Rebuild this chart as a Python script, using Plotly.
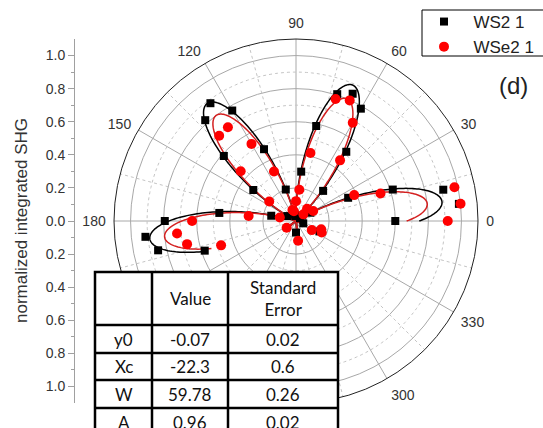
import numpy as np
import plotly.graph_objects as go

FIG_W, FIG_H = 543, 428

# ---------------- data ----------------
angles = [0, 6, 12, 18, 24, 30, 36, 42, 48, 54, 60, 66, 72, 78, 84, 90, 96,
          102, 108, 114, 120, 126, 132, 138, 144, 150, 156, 162, 168, 174,
          180, 186, 192, 198]

ws2 = [0.60, 0.99, 0.91, 0.615, 0.345, 0.10, 0.03, 0.05, 0.245, 0.517,
       0.784, 0.842, 0.806, 0.587, 0.30, -0.07, 0.03, 0.04, 0.20, 0.475,
       0.771, 0.88, 0.82, 0.587, 0.319, 0.06, -0.155, -0.046, 0.153, 0.466,
       0.793, 0.915, 0.852, 0.58]

wse2 = [0.917, 1.0, 0.979, 0.537, 0.385, 0.12, -0.07, 0.06, 0.10, 0.453,
        0.686, 0.798, 0.775, 0.42, 0.19, 0.12, -0.12, 0.06, 0.07, 0.327,
        0.538, 0.70, 0.694, 0.45, 0.20, -0.11, -0.17, -0.16, 0.10, 0.288,
        0.628, 0.723, 0.673, 0.476]

series_names = ["WS2 1", "WSe2 1"]

# fit table (WS2 1)
param_names = ["y0", "Xc", "W", "A"]
param_values = ["-0.07", "-22.3", "59.78", "0.96"]
param_errors = ["0.02", "0.6", "0.26", "0.02"]
table_header = ["", "Value", "Standard<br>Error"]

# estimated fit parameters for WSe2 1 (y0, Xc, W, A)
wse2_fit_params = [-0.07, -22.3, 59.78, 0.87]

angle_ticks = [0, 30, 60, 90, 120, 150, 180, 210, 240, 270, 300, 330]
left_tick_values = [-1.0, -0.8, -0.6, -0.4, -0.2, 0.0, 0.2, 0.4, 0.6, 0.8, 1.0]

# ---------------- helpers ----------------
def signed_polar(r, th):
    r = np.asarray(r, dtype=float)
    th = np.asarray(th, dtype=float)
    th2 = np.where(r < 0, th + 180.0, th)
    return np.abs(r), th2

def sine_sqr(th, p):
    y0, xc, w, a = p
    return y0 + a * np.sin(np.pi * (th - xc) / w) ** 2

def px(x):
    return x / FIG_W

def py(y):
    return 1 - y / FIG_H

ws2_fit_params = [float(v) for v in param_values]
th_fit = np.linspace(angles[0], angles[-1], 600)

fig = go.Figure()

# minor grid (dotted)
GRID_MINOR = "#c4c4c4"
for rr in [0.1, 0.3, 0.5, 0.7, 0.9]:
    tt = np.linspace(0, 360, 361)
    fig.add_trace(go.Scatterpolar(r=np.full_like(tt, rr), theta=tt, mode="lines",
                                  line=dict(color=GRID_MINOR, width=1, dash="dot"),
                                  showlegend=False, hoverinfo="skip"))
spoke_r, spoke_t = [], []
for a in range(15, 360, 30):
    spoke_r += [0, 1.1, None]
    spoke_t += [a, a, None]
fig.add_trace(go.Scatterpolar(r=spoke_r, theta=spoke_t, mode="lines",
                              line=dict(color=GRID_MINOR, width=1, dash="dot"),
                              showlegend=False, hoverinfo="skip"))

# fit curves
r1, t1 = signed_polar(sine_sqr(th_fit, ws2_fit_params), th_fit)
fig.add_trace(go.Scatterpolar(r=r1, theta=t1, mode="lines",
                              line=dict(color="black", width=1.5),
                              showlegend=False, hoverinfo="skip"))
r2, t2 = signed_polar(sine_sqr(th_fit, wse2_fit_params), th_fit)
fig.add_trace(go.Scatterpolar(r=r2, theta=t2, mode="lines",
                              line=dict(color="#d42020", width=1.5),
                              showlegend=False, hoverinfo="skip"))

# data
rb, tb = signed_polar(ws2, angles)
fig.add_trace(go.Scatterpolar(r=rb, theta=tb, mode="markers",
                              name="\u00a0\u00a0" + series_names[0],
                              marker=dict(symbol="square", size=8, color="black")))
rr_, tr_ = signed_polar(wse2, angles)
fig.add_trace(go.Scatterpolar(r=rr_, theta=tr_, mode="markers",
                              name="\u00a0\u00a0" + series_names[1],
                              marker=dict(symbol="circle", size=10, color="#ff0000")))

# dummy trace for left axis
fig.add_trace(go.Scatter(x=[None], y=[None], xaxis="x", yaxis="y",
                         showlegend=False, hoverinfo="skip"))

dom_y = [py(403), py(39)]

fig.update_layout(
    width=FIG_W, height=FIG_H,
    margin=dict(l=0, r=0, t=0, b=0),
    paper_bgcolor="white", plot_bgcolor="rgba(0,0,0,0)",
    font=dict(family="Liberation Sans, Arial", color="#333333"),
    polar=dict(
        domain=dict(x=[px(114), px(478)], y=dom_y),
        bgcolor="white",
        radialaxis=dict(range=[0, 1.1], tickvals=[0.2, 0.4, 0.6, 0.8, 1.0],
                        showticklabels=False, ticks="", showline=False,
                        gridcolor="#a8a8a8", gridwidth=1),
        angularaxis=dict(rotation=0, direction="counterclockwise",
                         tickvals=angle_ticks, ticktext=[str(a) for a in angle_ticks],
                         tickfont=dict(size=14, color="#333333"),
                         ticks="outside", ticklen=5, tickcolor="rgba(0,0,0,0)",
                         showline=True, linecolor="#222222", linewidth=1,
                         gridcolor="#a8a8a8", gridwidth=1),
    ),
    xaxis=dict(domain=[px(75), px(100)], visible=False, range=[0, 1]),
    yaxis=dict(domain=dom_y, range=[-1.1, 1.1], anchor="x", side="left",
               tickvals=left_tick_values,
               ticktext=["%.1f" % abs(v) for v in left_tick_values],
               tickfont=dict(size=14, color="#333333"),
               showline=True, linecolor="#a0a0a0", linewidth=1,
               ticks="outside", ticklen=6, tickcolor="#a0a0a0",
               minor=dict(tickmode="array",
                          tickvals=[-0.9, -0.7, -0.5, -0.3, -0.1, 0.1, 0.3, 0.5, 0.7, 0.9],
                          ticks="outside", ticklen=3, tickcolor="#a0a0a0"),
               showgrid=False, zeroline=False, fixedrange=True, automargin=False),
    legend=dict(x=px(424), y=py(4), xanchor="left", yanchor="top",
                borderwidth=0, bgcolor="rgba(0,0,0,0)",
                font=dict(size=17, color="#222222"),
                tracegroupgap=0),
    showlegend=True,
)

annotations = [
    dict(x=px(21), y=0.5 * (dom_y[0] + dom_y[1]), xref="paper", yref="paper",
         xanchor="center", yanchor="middle",
         text="normalized integrated SHG", textangle=-90, showarrow=False,
         font=dict(size=17, color="#333333")),
    dict(x=px(513), y=py(86), xref="paper", yref="paper", text="(d)",
         xanchor="center", yanchor="middle",
         showarrow=False, font=dict(size=24, color="#222222")),
]

# legend frame
shapes = [dict(type="rect", xref="paper", yref="paper", x0=px(422), x1=px(560),
               y0=py(56), y1=py(10), fillcolor="white",
               line=dict(color="black", width=1), layer="above")]

# ---------------- table ----------------
col_x = [95, 152, 228, 338]
row_y = [272, 325, 353, 380, 408, 436]
shapes.append(dict(type="rect", xref="paper", yref="paper", x0=px(col_x[0]), x1=px(col_x[-1]),
                   y0=py(row_y[0]), y1=py(460), fillcolor="white",
                   line=dict(color="black", width=2.5), layer="above"))
for cx in col_x[1:-1]:
    shapes.append(dict(type="line", xref="paper", yref="paper", x0=px(cx), x1=px(cx),
                       y0=py(row_y[0]), y1=py(460), line=dict(color="black", width=2.5),
                       layer="above"))
for ry in row_y[1:]:
    shapes.append(dict(type="line", xref="paper", yref="paper", x0=px(col_x[0]), x1=px(col_x[-1]),
                       y0=py(ry), y1=py(ry), line=dict(color="black", width=2.5),
                       layer="above"))

TFONT = dict(family="Lato, Noto Sans", size=17, color="#111111")
for j, txt in enumerate(table_header):
    if txt:
        annotations.append(dict(x=px((col_x[j] + col_x[j + 1]) / 2),
                                y=py((row_y[0] + row_y[1]) / 2), xref="paper", yref="paper",
                                xanchor="center", yanchor="middle",
                                text=txt, showarrow=False, font=TFONT))
for i in range(len(param_names)):
    yc = (row_y[i + 1] + row_y[i + 2]) / 2
    for j, txt in enumerate([param_names[i], param_values[i], param_errors[i]]):
        annotations.append(dict(x=px((col_x[j] + col_x[j + 1]) / 2), y=py(yc),
                                xref="paper", yref="paper", text=txt,
                                xanchor="center", yanchor="middle",
                                showarrow=False, font=TFONT))

fig.update_layout(shapes=shapes, annotations=annotations)
fig.write_html("out.html", config={"displayModeBar": False},
               post_script="document.body.style.margin='0px';")
